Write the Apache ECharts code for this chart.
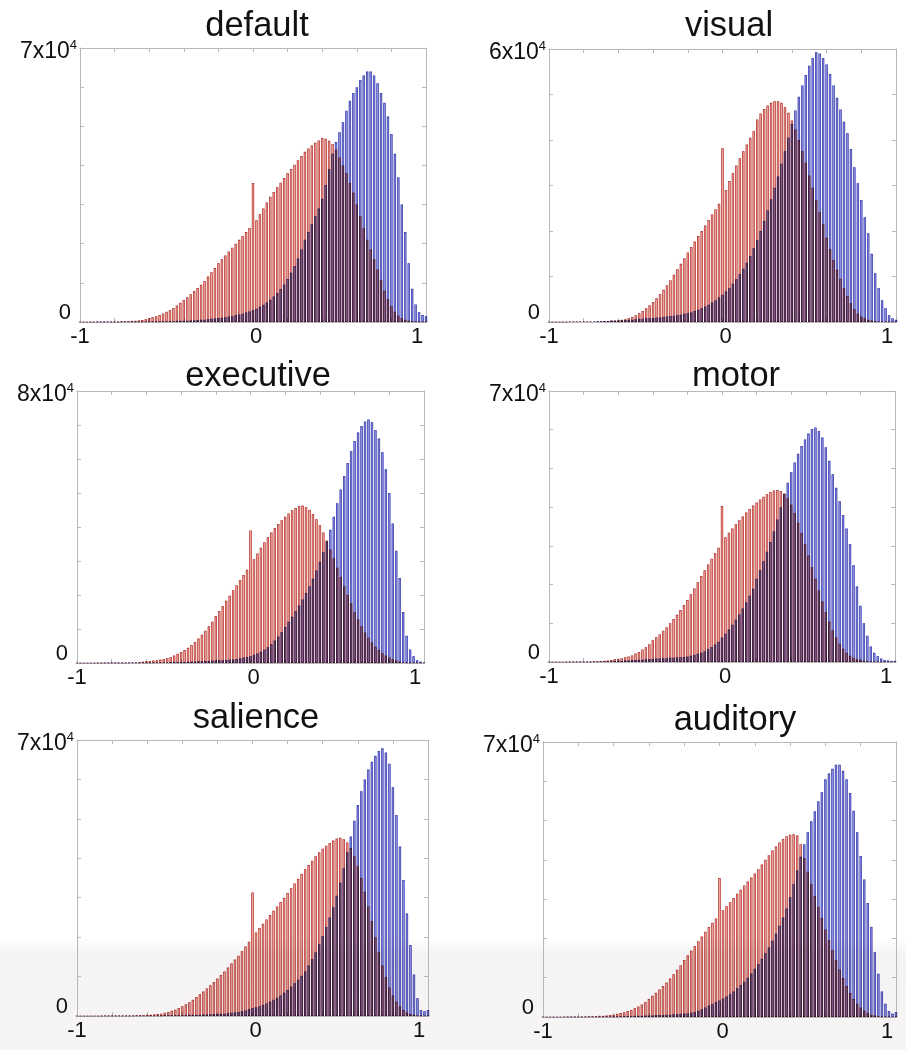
<!DOCTYPE html>
<html>
<head>
<meta charset="utf-8">
<title>network histograms</title>
<script src="https://cdn.jsdelivr.net/npm/echarts@6/dist/echarts.min.js"></script>
<style>
  html, body { margin: 0; padding: 0; background: #fff; }
  #chart { width: 906px; height: 1050px; }
</style>
</head>
<body>
<div id="chart"></div>
<script>
// histogram bins: centres -1 : 0.02 : 1 (101 bins), counts in thousands
const binCount = 101;
const binCenters = Array.from({ length: binCount }, (_, i) => +(-1 + 0.02 * i).toFixed(2));

const titles = ['default', 'visual', 'executive', 'motor', 'salience', 'auditory'];
// y axis top, in units of 10^4
const yTops = [7, 6, 8, 7, 7, 7];

const defaultBlue = [
  0, 0, 0, 0, 0, 0.1, 0.1, 0.1, 0.1, 0.1,
  0.1, 0.1, 0.1, 0.1, 0.1, 0.1, 0.1, 0.1, 0.1, 0.1,
  0.1, 0.1, 0.1, 0.2, 0.2, 0.2, 0.2, 0.2, 0.3, 0.3,
  0.3, 0.3, 0.4, 0.4, 0.5, 0.6, 0.6, 0.7, 0.8, 0.9,
  1.0, 1.1, 1.2, 1.4, 1.5, 1.8, 1.9, 2.1, 2.4, 2.7,
  3.0, 3.4, 3.9, 4.4, 5.0, 5.7, 6.5, 7.4, 8.4, 9.6,
  11.0, 12.6, 14.3, 16.2, 18.5, 21.0, 23.0, 25.0, 27.0, 29.0,
  31.5, 35.0, 39.0, 43.0, 46.0, 48.5, 51.0, 54.0, 56.5, 58.5,
  60.0, 61.8, 63.0, 64.0, 64.0, 63.0, 61.0, 58.5, 56.0, 52.5,
  48.0, 43.0, 37.0, 30.0, 23.0, 15.0, 8.5, 4.5, 2.5, 1.8,
  1.5
];
const defaultRed = [
  0, 0, 0, 0.1, 0.1, 0.1, 0.1, 0.1, 0.1, 0.1,
  0.1, 0.1, 0.2, 0.2, 0.2, 0.3, 0.3, 0.4, 0.5, 0.7,
  1.0, 1.2, 1.5, 1.8, 2.2, 2.6, 3.0, 3.6, 4.2, 4.9,
  5.6, 6.3, 7.1, 7.9, 8.7, 9.5, 10.5, 11.6, 12.7, 13.8,
  15.0, 16.0, 17.0, 18.0, 19.0, 20.0, 21.0, 22.0, 23.0, 24.0,
  35.5, 26.0, 27.5, 29.0, 30.5, 32.0, 33.2, 34.4, 35.6, 36.8,
  38.0, 39.1, 40.2, 41.3, 42.4, 43.5, 44.3, 45.1, 45.8, 46.4,
  47.0, 46.8, 46.3, 45.5, 44.0, 42.0, 40.0, 38.0, 35.5, 33.0,
  30.0, 27.0, 24.0, 21.0, 18.5, 16.0, 13.4, 10.7, 8.0, 5.8,
  4.0, 2.6, 1.6, 1.0, 0.6, 0.3, 0.2, 0.1, 0.1, 0,
  0
];
const visualBlue = [
  0, 0, 0, 0, 0, 0, 0.1, 0.1, 0.1, 0.1,
  0.1, 0.1, 0.1, 0.1, 0.2, 0.2, 0.2, 0.2, 0.3, 0.3,
  0.3, 0.4, 0.4, 0.5, 0.5, 0.6, 0.7, 0.7, 0.8, 0.9,
  0.9, 1.0, 1.0, 1.1, 1.2, 1.3, 1.4, 1.5, 1.6, 1.8,
  1.9, 2.1, 2.4, 2.7, 3.0, 3.4, 3.8, 4.3, 4.8, 5.4,
  6.0, 6.7, 7.5, 8.4, 9.4, 10.5, 11.7, 13.0, 14.5, 16.2,
  18.0, 20.0, 22.2, 24.5, 27.0, 29.5, 32.0, 34.8, 37.5, 40.5,
  43.5, 46.5, 49.5, 52.0, 54.3, 56.3, 58.0, 59.3, 59.0, 58.0,
  56.6, 54.5, 52.0, 49.3, 46.7, 44.0, 41.5, 38.0, 34.0, 30.5,
  26.8, 23.0, 19.5, 15.0, 10.7, 7.5, 4.8, 3.0, 1.5, 0.8,
  0.5
];
const visualRed = [
  0, 0, 0, 0, 0, 0, 0.1, 0.1, 0.1, 0.1,
  0.1, 0.1, 0.1, 0.1, 0.1, 0.1, 0.2, 0.2, 0.3, 0.3,
  0.4, 0.5, 0.6, 0.8, 1.1, 1.5, 1.9, 2.4, 3.0, 3.7,
  4.4, 5.2, 6.1, 7.1, 8.1, 9.2, 10.4, 11.6, 12.8, 14.0,
  15.3, 16.5, 17.7, 18.9, 20.0, 21.2, 22.4, 23.6, 24.8, 26.0,
  38.2, 29.0, 31.0, 32.7, 34.4, 36.0, 37.5, 39.0, 40.5, 42.0,
  44.5, 45.8, 46.8, 47.6, 48.2, 48.5, 48.5, 48.2, 47.2, 46.0,
  44.3, 42.3, 40.0, 37.5, 35.0, 32.2, 29.5, 26.8, 24.1, 21.5,
  18.5, 16.0, 13.6, 11.5, 9.5, 7.5, 5.7, 4.1, 2.8, 1.8,
  1.2, 0.8, 0.5, 0.3, 0.2, 0.1, 0.1, 0, 0, 0,
  0
];
const executiveBlue = [
  0, 0, 0, 0, 0, 0, 0, 0, 0.1, 0.1,
  0.1, 0.1, 0.1, 0.1, 0.1, 0.1, 0.1, 0.1, 0.1, 0.1,
  0.1, 0.1, 0.1, 0.2, 0.2, 0.2, 0.2, 0.3, 0.3, 0.3,
  0.3, 0.3, 0.4, 0.4, 0.4, 0.5, 0.5, 0.6, 0.6, 0.7,
  0.7, 0.8, 0.8, 0.9, 1.0, 1.0, 1.2, 1.4, 1.6, 1.8,
  2.0, 2.4, 2.8, 3.3, 3.9, 4.6, 5.5, 6.6, 7.8, 9.1,
  10.6, 12.1, 13.6, 15.2, 16.9, 18.7, 20.6, 22.6, 24.8, 27.2,
  29.8, 32.6, 35.7, 39.2, 43.0, 47.0, 51.0, 55.0, 58.8, 62.3,
  65.3, 67.8, 69.7, 71.0, 71.6, 70.8, 68.5, 66.0, 62.0, 57.0,
  50.0, 41.0, 33.0, 25.0, 15.0, 8.0, 4.0, 2.0, 0.8, 0.4,
  0.2
];
const executiveRed = [
  0, 0, 0, 0, 0, 0, 0.1, 0.1, 0.1, 0.1,
  0.1, 0.1, 0.1, 0.1, 0.1, 0.2, 0.2, 0.2, 0.3, 0.4,
  0.5, 0.6, 0.7, 0.8, 1.0, 1.2, 1.5, 1.8, 2.2, 2.7,
  3.2, 3.8, 4.5, 5.3, 6.2, 7.2, 8.3, 9.5, 10.8, 12.1,
  13.8, 15.3, 16.8, 18.3, 19.8, 21.4, 22.9, 24.4, 25.9, 27.4,
  39.0, 30.5, 32.2, 33.9, 35.5, 37.0, 38.4, 39.7, 40.9, 42.0,
  43.0, 44.0, 44.9, 45.6, 46.2, 46.3, 45.8, 45.0, 43.8, 42.3,
  40.5, 38.4, 36.0, 33.4, 30.8, 28.0, 25.3, 22.6, 20.0, 17.6,
  15.0, 12.8, 10.8, 9.0, 7.4, 6.0, 4.8, 3.8, 2.9, 2.2,
  1.6, 1.1, 0.7, 0.4, 0.2, 0.1, 0.1, 0, 0, 0,
  0
];
const motorBlue = [
  0, 0, 0, 0, 0, 0, 0.1, 0.1, 0.1, 0.1,
  0.1, 0.1, 0.1, 0.1, 0.1, 0.2, 0.2, 0.2, 0.2, 0.3,
  0.3, 0.3, 0.4, 0.4, 0.5, 0.5, 0.6, 0.6, 0.7, 0.8,
  0.8, 0.9, 0.9, 1.0, 1.0, 1.1, 1.1, 1.2, 1.2, 1.3,
  1.4, 1.6, 1.8, 2.1, 2.4, 2.8, 3.3, 3.9, 4.5, 5.2,
  6.3, 7.3, 8.4, 9.6, 10.9, 12.3, 13.8, 15.4, 17.1, 18.9,
  21.5, 23.7, 26.0, 28.5, 31.0, 33.8, 36.8, 40.0, 43.3, 46.3,
  49.0, 51.5, 53.8, 55.8, 57.5, 59.0, 60.2, 60.6, 59.7, 58.0,
  55.5, 52.0, 48.5, 45.0, 41.5, 38.0, 34.5, 30.5, 25.0, 19.5,
  14.5, 10.0, 6.8, 4.0, 2.4, 1.5, 0.9, 0.5, 0.4, 0.3,
  0.3
];
const motorRed = [
  0, 0, 0, 0, 0, 0.1, 0.1, 0.1, 0.1, 0.1,
  0.1, 0.1, 0.1, 0.2, 0.2, 0.2, 0.3, 0.4, 0.5, 0.7,
  0.8, 1.0, 1.2, 1.4, 1.7, 2.2, 2.6, 3.2, 3.8, 4.6,
  5.6, 6.4, 7.2, 8.1, 9.0, 10.0, 11.1, 12.2, 13.4, 14.7,
  16.0, 17.5, 19.0, 20.6, 22.2, 23.7, 25.2, 26.7, 28.1, 29.5,
  40.3, 32.2, 33.4, 34.5, 35.6, 36.6, 37.6, 38.6, 39.5, 40.4,
  41.2, 42.0, 42.7, 43.3, 43.9, 44.3, 44.4, 44.2, 43.5, 42.3,
  40.6, 38.5, 36.0, 33.3, 30.5, 27.5, 24.5, 21.5, 18.5, 15.6,
  12.9, 10.4, 8.2, 6.3, 4.7, 3.4, 2.4, 1.6, 1.1, 0.7,
  0.5, 0.3, 0.2, 0.1, 0.1, 0, 0, 0, 0, 0,
  0
];
const salienceBlue = [
  0, 0, 0, 0, 0, 0, 0, 0, 0.1, 0.1,
  0.1, 0.1, 0.1, 0.1, 0.1, 0.1, 0.1, 0.1, 0.1, 0.1,
  0.1, 0.1, 0.1, 0.1, 0.1, 0.2, 0.2, 0.2, 0.2, 0.2,
  0.2, 0.2, 0.3, 0.3, 0.3, 0.3, 0.4, 0.4, 0.4, 0.5,
  0.5, 0.6, 0.6, 0.7, 0.8, 0.9, 1.0, 1.2, 1.4, 1.7,
  2.0, 2.2, 2.5, 2.8, 3.2, 3.6, 4.1, 4.6, 5.2, 5.9,
  6.6, 7.4, 8.3, 9.2, 10.2, 11.3, 12.8, 14.4, 16.2, 18.2,
  20.3, 22.6, 25.0, 27.6, 30.5, 33.8, 37.5, 41.5, 45.5, 49.5,
  53.5, 57.0, 60.0, 62.5, 64.5, 66.0, 67.2, 67.9, 66.8, 64.0,
  58.0, 51.0, 43.0, 34.5, 26.0, 18.0, 10.5, 4.5, 1.5, 1.2,
  1.5
];
const salienceRed = [
  0, 0, 0, 0, 0, 0, 0, 0.1, 0.1, 0.1,
  0.1, 0.1, 0.1, 0.1, 0.1, 0.1, 0.1, 0.2, 0.2, 0.2,
  0.3, 0.3, 0.4, 0.5, 0.6, 0.8, 1.0, 1.3, 1.6, 2.0,
  2.5, 3.0, 3.5, 4.1, 4.8, 5.5, 6.2, 7.0, 7.8, 8.6,
  9.5, 10.4, 11.3, 12.3, 13.3, 14.3, 15.3, 16.4, 17.6, 18.8,
  31.3, 21.2, 22.3, 23.4, 24.5, 25.6, 26.7, 27.8, 28.9, 30.0,
  31.2, 32.4, 33.6, 34.8, 36.0, 37.2, 38.3, 39.4, 40.5, 41.5,
  42.4, 43.2, 43.9, 44.5, 45.0, 45.2, 44.8, 44.0, 42.6, 40.5,
  38.0, 35.0, 31.5, 27.8, 24.0, 20.0, 16.2, 12.8, 9.8, 7.2,
  5.2, 3.6, 2.4, 1.5, 0.9, 0.5, 0.3, 0.1, 0.1, 0,
  0
];
const auditoryBlue = [
  0, 0, 0, 0, 0, 0, 0, 0.1, 0.1, 0.1,
  0.1, 0.1, 0.1, 0.1, 0.1, 0.1, 0.1, 0.1, 0.1, 0.1,
  0.1, 0.1, 0.2, 0.2, 0.2, 0.2, 0.3, 0.3, 0.3, 0.4,
  0.4, 0.4, 0.5, 0.5, 0.5, 0.6, 0.6, 0.7, 0.7, 0.8,
  0.8, 0.9, 1.1, 1.3, 1.6, 2.0, 2.4, 2.9, 3.3, 3.8,
  4.2, 4.7, 5.2, 5.8, 6.5, 7.3, 8.1, 9.0, 10.0, 11.1,
  12.3, 13.5, 14.8, 16.2, 17.7, 19.4, 21.2, 23.2, 25.3, 27.6,
  30.5, 33.8, 37.3, 40.8, 44.0, 47.0, 49.8, 52.4, 54.9, 57.2,
  60.5, 62.0, 63.2, 64.2, 64.2, 62.7, 60.5, 57.0, 52.5, 47.0,
  41.0, 35.0, 29.0, 23.0, 16.5, 11.0, 6.5, 3.4, 1.5, 0.9,
  1.3
];
const auditoryRed = [
  0, 0, 0, 0, 0, 0, 0.1, 0.1, 0.1, 0.1,
  0.1, 0.1, 0.1, 0.2, 0.2, 0.2, 0.3, 0.3, 0.4, 0.5,
  0.6, 0.8, 1.0, 1.2, 1.5, 1.8, 2.2, 2.7, 3.2, 3.8,
  4.6, 5.4, 6.2, 7.0, 7.9, 8.8, 9.8, 10.9, 12.0, 13.2,
  14.5, 15.7, 16.9, 18.1, 19.3, 20.5, 21.7, 22.9, 24.0, 25.1,
  35.4, 27.2, 28.2, 29.2, 30.3, 31.4, 32.4, 33.5, 34.5, 35.5,
  36.5, 37.6, 38.8, 40.0, 41.2, 42.4, 43.4, 44.4, 45.3, 46.0,
  46.4, 46.5, 46.2, 44.0, 40.5, 37.0, 33.8, 30.8, 28.0, 25.2,
  22.3, 19.6, 17.0, 14.5, 12.1, 9.9, 7.9, 6.1, 4.6, 3.4,
  2.4, 1.6, 1.0, 0.6, 0.4, 0.2, 0.1, 0.1, 0, 0,
  0
];

const blueSets = [defaultBlue, visualBlue, executiveBlue, motorBlue, salienceBlue, auditoryBlue];
const redSets = [defaultRed, visualRed, executiveRed, motorRed, salienceRed, auditoryRed];

// panel boxes (px) and title anchors
const panels = [
  { left: 80, top: 48, width: 346, height: 274, tx: 252, ty: 4 },
  { left: 549, top: 49, width: 347, height: 273, tx: 724, ty: 4 },
  { left: 77, top: 391, width: 347, height: 272, tx: 253, ty: 354 },
  { left: 549, top: 391, width: 346, height: 271, tx: 731, ty: 354 },
  { left: 77, top: 740, width: 351, height: 276, tx: 251, ty: 696 },
  { left: 543, top: 742, width: 353, height: 275, tx: 730, ty: 698 }
];

const FONT = 'Liberation Sans, Arial, sans-serif';
const frameColor = '#b8b8b8';

const chart = echarts.init(document.getElementById('chart'), null, { renderer: 'canvas' });

const grid = [], xAxis = [], yAxis = [], series = [], title = [];

panels.forEach((p, k) => {
  grid.push({ left: p.left, top: p.top, width: p.width, height: p.height, containLabel: false });
  title.push({
    text: titles[k], left: p.tx, top: p.ty, textAlign: 'center',
    textStyle: { fontFamily: FONT, fontSize: 34.5, fontWeight: 'normal', color: '#111' }
  });

  const xBase = {
    type: 'value', gridIndex: k, min: -1, max: 1, interval: 0.2,
    axisLine: { show: true, onZero: false, lineStyle: { color: frameColor, width: 1 } },
    axisTick: { show: true, inside: true, length: 4, lineStyle: { color: frameColor } },
    splitLine: { show: false }
  };
  xAxis.push(Object.assign({}, xBase, {
    position: 'bottom',
    axisLabel: {
      show: true, margin: 4, fontFamily: FONT, fontSize: 22, color: '#111',
      formatter: (v) => {
        if (Math.abs(v + 1) < 1e-6) return '{n|-1}';
        if (Math.abs(v) < 1e-6) return '{z|0}';
        if (Math.abs(v - 1) < 1e-6) return '{o|1}';
        return '';
      },
      rich: {
        n: { fontFamily: FONT, fontSize: 22, color: '#111' },
        z: { fontFamily: FONT, fontSize: 22, color: '#111', padding: [0, 0, 0, 6] },
        o: { fontFamily: FONT, fontSize: 22, color: '#111', padding: [0, 18, 0, 0] }
      }
    }
  }));
  xAxis.push(Object.assign({}, xBase, { position: 'top', axisLabel: { show: false } }));

  const yMax = yTops[k] * 10;
  const yBase = {
    type: 'value', gridIndex: k, min: 0, max: yMax, interval: 10,
    axisLine: { show: true, onZero: false, lineStyle: { color: frameColor, width: 1 } },
    axisTick: { show: true, inside: true, length: 4, lineStyle: { color: frameColor } },
    splitLine: { show: false }
  };
  yAxis.push(Object.assign({}, yBase, {
    position: 'left',
    axisLabel: {
      show: true, margin: 3, color: '#111', padding: [8, 0, 0, 0],
      formatter: (v) => {
        if (v === yMax) return '{a|' + yTops[k] + 'x10}{s|4}';
        if (v === 0) return '{z|0}';
        return '';
      },
      rich: {
        a: { fontFamily: FONT, fontSize: 23, lineHeight: 26, color: '#111' },
        s: { fontFamily: FONT, fontSize: 13, lineHeight: 13, verticalAlign: 'top', color: '#111' },
        z: { fontFamily: FONT, fontSize: 22, color: '#111', padding: [0, 6, 26, 0] }
      }
    }
  }));
  yAxis.push(Object.assign({}, yBase, { position: 'right', axisLabel: { show: false } }));

  const blue = blueSets[k], red = redSets[k];
  series.push({
    type: 'bar', name: titles[k] + ' blue', xAxisIndex: 2 * k, yAxisIndex: 2 * k,
    data: binCenters.map((x, i) => [x, blue[i]]),
    barWidth: 2.4, barGap: '-100%', blendMode: 'multiply', silent: true,
    itemStyle: { color: '#8d92e2', borderColor: '#3c41b4', borderWidth: 0.7 }
  });
  series.push({
    type: 'bar', name: titles[k] + ' red', xAxisIndex: 2 * k, yAxisIndex: 2 * k,
    data: binCenters.map((x, i) => [x, red[i]]),
    barWidth: 2.4, barGap: '-100%', blendMode: 'multiply', silent: true,
    itemStyle: { color: '#eea8a0', borderColor: '#b9322c', borderWidth: 0.7 }
  });
});

chart.setOption({
  backgroundColor: '#fff',
  animation: false,
  title: title,
  grid: grid,
  xAxis: xAxis,
  yAxis: yAxis,
  series: series,
  graphic: [{
    // faint grey band along the bottom of the picture
    type: 'rect', z: -100, silent: true,
    shape: { x: 0, y: 938, width: 906, height: 112 },
    style: {
      fill: new echarts.graphic.LinearGradient(0, 0, 0, 1, [
        { offset: 0, color: '#ffffff' },
        { offset: 0.15, color: '#f5f3f3' },
        { offset: 1, color: '#f6f4f4' }
      ])
    }
  }]
});
</script>
</body>
</html>
